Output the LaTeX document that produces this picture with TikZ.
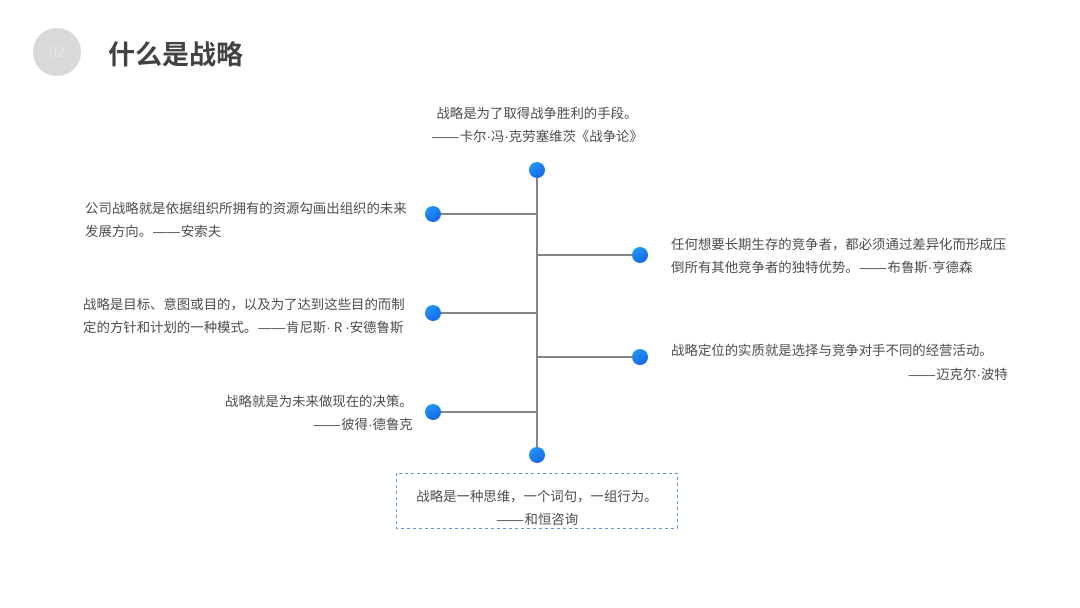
\documentclass[tikz,border=0pt]{standalone}
\usepackage{fontspec}
\usepackage{xcolor}
\usepackage{tikz}
\usetikzlibrary{positioning}
\newfontfamily\cjk{Noto Sans CJK SC}
\newfontfamily\cjkbold{Noto Sans CJK SC Bold}
\newfontfamily\latinsans{Liberation Sans}
\newcommand\qdash{{\latinsans\kern1pt——\kern1pt}}
\newcommand\qdot{{\latinsans ·}}
\definecolor{txtgray}{HTML}{4D4D4D}
\definecolor{spinegray}{HTML}{858585}
\definecolor{dotlight}{HTML}{2196F3}
\definecolor{dotdark}{HTML}{1565E6}
\definecolor{boxblue}{HTML}{5B9BD5}

\begin{document}
\begin{tikzpicture}[x=1pt,y=-1pt,
  quote/.style={font=\cjk\fontsize{13.4}{23}\selectfont,text=txtgray,inner sep=0pt},
  dot/.style={circle,minimum size=16pt,inner sep=0pt,top color=dotlight,bottom color=dotdark,shading angle=30},
  branch/.style={spinegray,line width=1.4pt}]
  \useasboundingbox[fill=white] (0,0) rectangle (1080,608);
  % heading
  \node[circle,fill=gray!30,minimum size=48pt,inner sep=0pt,text=white!80!gray,
        font=\sffamily\fontsize{17}{17}\selectfont] (num) at (57,52) {02};
  \node[anchor=west,inner sep=0pt,text=txtgray!85!black,
        font=\cjkbold\fontsize{27}{27}\selectfont] (title) at (108,54) {什么是战略};
  % spine
  \node[dot] (top) at (537,170) {};
  \node[dot] (bot) at (537,455) {};
  \draw[branch] (top) -- (bot);
  % left dots
  \node[dot] (l1) at (433,214) {};
  \node[dot] (l2) at (433,313) {};
  \node[dot] (l3) at (433,412) {};
  % right dots
  \node[dot] (r1) at (640,255) {};
  \node[dot] (r2) at (640,357) {};
  \foreach \d in {l1,l2,l3,r1,r2}{\draw[branch] (\d) -- (\d -| top);}
  % quotes
  \node[quote,align=center] (qtop) at (537,125)
    {战略是为了取得战争胜利的手段。\\\qdash 卡尔\qdot 冯\qdot 克劳塞维茨《战争论》};
  \node[quote,align=left,anchor=west] (ql1) at (85,220)
    {公司战略就是依据组织所拥有的资源勾画出组织的未来\\发展方向。\qdash 安索夫};
  \node[quote,align=left,anchor=west] (ql2) at (83,316)
    {战略是目标、意图或目的，以及为了达到这些目的而制\\定的方针和计划的一种模式。\qdash 肯尼斯\qdot{} R \qdot 安德鲁斯};
  \node[quote,align=right,anchor=east] (ql3) at (413,413)
    {战略就是为未来做现在的决策。\\\qdash 彼得\qdot 德鲁克};
  \node[quote,align=left,anchor=west] (qr1) at (671,256)
    {任何想要长期生存的竞争者，都必须通过差异化而形成压\\倒所有其他竞争者的独特优势。\qdash 布鲁斯\qdot 亨德森};
  \node[quote,anchor=west] (qr2) at (671,350) {战略定位的实质就是选择与竞争对手不同的经营活动。};
  \node[quote,anchor=east] (qr2b) at (1008,374) {\qdash 迈克尔\qdot 波特};
  % box
  \draw[boxblue,dashed,line width=0.8pt] (396,473) rectangle (677,528);
  \node[quote,align=center] (qbox) at (537,508)
    {战略是一种思维，一个词句，一组行为。\\\qdash 和恒咨询};
\end{tikzpicture}
\end{document}
